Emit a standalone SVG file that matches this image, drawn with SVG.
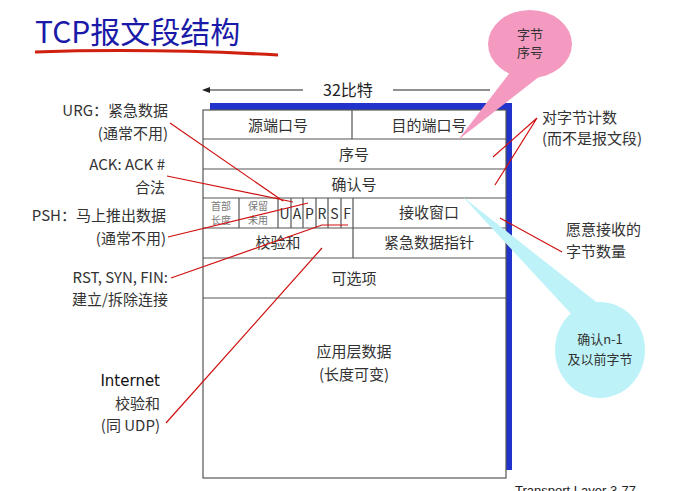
<svg xmlns="http://www.w3.org/2000/svg" width="682" height="491" viewBox="0 0 682 491">
<style>
text{font-family:"Noto Sans CJK SC","Liberation Sans",sans-serif;fill:#333}
.f{font-size:15px;text-anchor:middle}
.s{font-size:10px;fill:#777;text-anchor:middle}
.l{font-size:15px;text-anchor:end}
.r{font-size:15px}
.g{stroke:#555;stroke-width:1.2;fill:none}
.rd{stroke:#d01010;stroke-width:1.2;fill:none}
</style>
<rect width="682" height="491" fill="#fff"/>
<g id="title">
<text x="35" y="43" style="font-size:30px;fill:#1a1aa8">TCP报文段结构</text>
<path d="M35 52 Q150 48 278 55" stroke="#d02010" stroke-width="3" fill="none"/>
</g>
<g id="width">
<line x1="204" y1="90" x2="303" y2="90" stroke="#222"/>
<path d="M202 90 l8 -3 v6z" fill="#222"/>
<line x1="393" y1="90" x2="490" y2="90" stroke="#222"/>
<text x="348" y="96" class="f" style="font-size:16px;fill:#222">32比特</text>
</g>
<g id="segment">
<rect x="210" y="103" width="302" height="367" fill="#2233cc"/>
<rect x="203" y="110" width="303" height="368" style="fill:#fff;stroke:#555;stroke-width:1.2"/>
<path class="g" d="M203 139H506M203 169H506M203 198H506M203 228H506M203 258H506M203 298H506M352 110V139M353 198V258M239 198V228M278 198V228M291 198V228M303 198V228M316 198V228M328 198V228M341 198V228"/>
<text x="278" y="131" class="f">源端口号</text>
<text x="429" y="131" class="f">目的端口号</text>
<text x="354" y="160" class="f">序号</text>
<text x="354" y="190" class="f">确认号</text>
<text x="221" y="210" class="s">首部</text><text x="221" y="224" class="s">长度</text>
<text x="258" y="210" class="s">保留</text><text x="258" y="224" class="s">未用</text>
<text x="284.5" y="219" class="f" style="font-size:14px">U</text>
<text x="297" y="219" class="f" style="font-size:14px">A</text>
<text x="309.5" y="219" class="f" style="font-size:14px">P</text>
<text x="322" y="219" class="f" style="font-size:14px">R</text>
<text x="334.5" y="219" class="f" style="font-size:14px">S</text>
<text x="347" y="219" class="f" style="font-size:14px">F</text>
<text x="429" y="218" class="f">接收窗口</text>
<text x="278" y="248" class="f">校验和</text>
<text x="429" y="248" class="f">紧急数据指针</text>
<text x="354" y="284" class="f">可选项</text>
<text x="354" y="357" class="f">应用层数据</text>
<text x="354" y="380" class="f">(长度可变)</text>
</g>
<g id="connectors">
<path class="rd" d="M170 123L283 201M167 176L293 202M168 237L308 203M171 278L322 225H348M166 423L322 248M537 118L493 157M537 118L495 185M500 218L562 252"/>
</g>
<g id="left-labels">
<text x="168" y="116" class="l">URG：紧急数据</text>
<text x="168" y="139" class="l">(通常不用)</text>
<text x="165" y="170" class="l">ACK: ACK #</text>
<text x="165" y="193" class="l">合法</text>
<text x="166" y="221" class="l">PSH：马上推出数据</text>
<text x="166" y="244" class="l">(通常不用)</text>
<text x="168" y="283" class="l">RST, SYN, FIN:</text>
<text x="168" y="305" class="l">建立/拆除连接</text>
<text x="160" y="386" class="l" style="font-family:'DejaVu Sans',sans-serif;fill:#111">Internet</text>
<text x="160" y="409" class="l">校验和</text>
<text x="160" y="431" class="l">(同 UDP)</text>
</g>
<g id="right-labels">
<text x="542" y="123" class="r">对字节计数</text>
<text x="542" y="144" class="r">(而不是报文段)</text>
<text x="566" y="235" class="r">愿意接收的</text>
<text x="566" y="257" class="r">字节数量</text>
</g>
<g id="bubble-seq">
<path d="M512 70 L458 140 L540 76Z" fill="#f49ac0"/>
<ellipse cx="530" cy="44" rx="42" ry="34" fill="#f49ac0"/>
<text x="530" y="39" class="f" style="font-size:13px">字节</text>
<text x="530" y="57" class="f" style="font-size:13px">序号</text>
</g>
<g id="bubble-ack">
<path d="M463 197 L575 318 L600 305Z" fill="#bdf3f8"/>
<ellipse cx="600" cy="350" rx="45" ry="48" fill="#bdf3f8"/>
<text x="600" y="344" class="f" style="font-size:13px">确认n-1</text>
<text x="600" y="364" class="f" style="font-size:13px">及以前字节</text>
</g>
<text x="515" y="495" style="font-size:13px;fill:#222;font-family:'Liberation Sans',sans-serif">Transport Layer    3-77</text>
</svg>
